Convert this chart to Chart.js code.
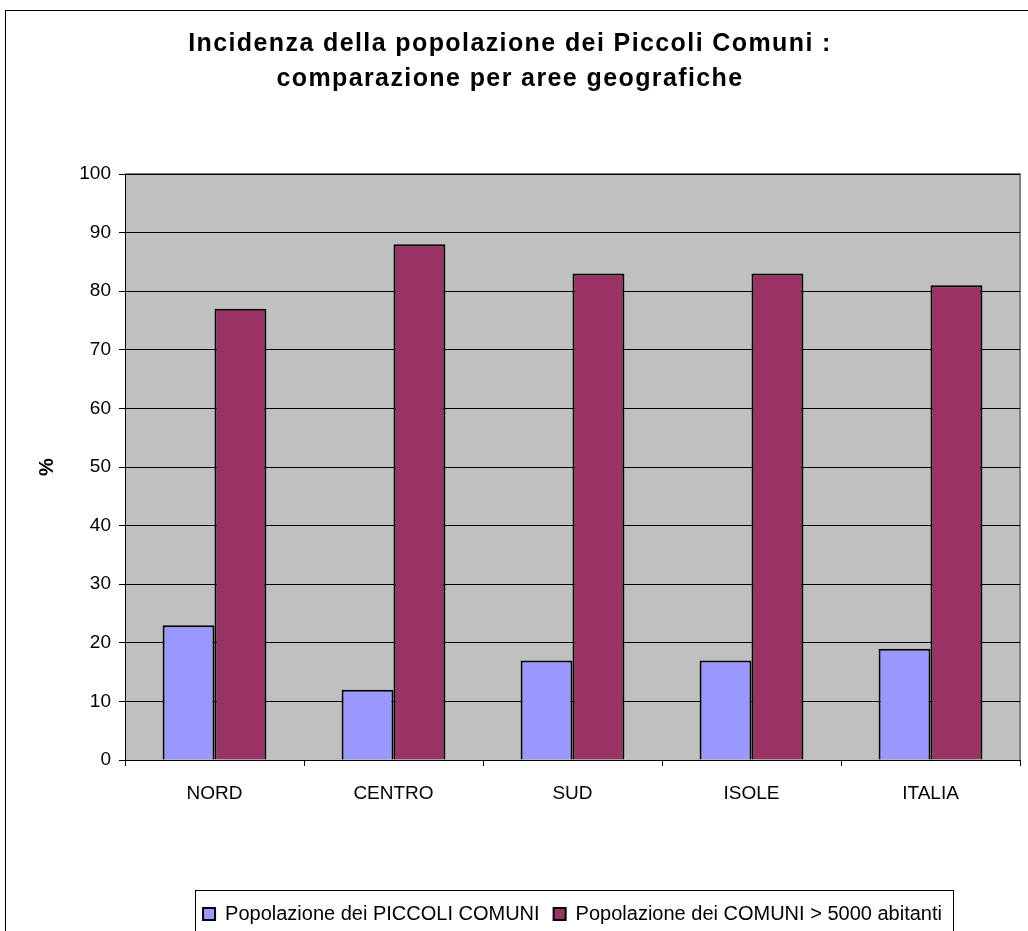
<!DOCTYPE html>
<html>
<head>
<meta charset="utf-8">
<script src="https://cdn.jsdelivr.net/npm/chart.js@4"></script>
<style>
html,body{margin:0;padding:0;background:#fff;}
#wrap{width:1028px;height:931px;position:relative;}
</style>
</head>
<body>
<div id="wrap"><canvas id="c" width="1028" height="931"></canvas></div>
<script>
const categories = ["NORD", "CENTRO", "SUD", "ISOLE", "ITALIA"];
const piccoliComuni = [23, 12, 17, 17, 19];
const comuniOltre5000 = [77, 88, 83, 83, 81];
const seriesNames = ["Popolazione dei PICCOLI COMUNI", "Popolazione dei COMUNI > 5000 abitanti"];
const titleLines = ["Incidenza della popolazione dei Piccoli Comuni :", "comparazione per aree geografiche"];
const yTitle = "%";

const FONT = "'Liberation Sans', Arial, sans-serif";

const decor = {
  id: 'decor',
  afterLayout(chart) {
    const lg = chart.legend, a = chart.chartArea;
    if (!lg) return;
    lg.left = a.left;
    lg.right = a.right;
    lg.width = a.right - a.left;
    if (lg.adjustHitBoxes) lg.adjustHitBoxes();
  },
  beforeDraw(chart) {
    const ctx = chart.ctx, a = chart.chartArea;
    ctx.save();
    ctx.fillStyle = '#fff';
    ctx.fillRect(0, 0, chart.width, chart.height);
    ctx.strokeStyle = '#000';
    ctx.lineWidth = 1;
    ctx.strokeRect(5.5, 10.5, 1100, 1000);
    ctx.fillStyle = '#C0C0C0';
    ctx.fillRect(a.left, a.top, a.right - a.left, a.bottom - a.top);
    ctx.strokeStyle = '#808080';
    ctx.lineWidth = 2;
    ctx.beginPath();
    ctx.moveTo(a.left, a.top);
    ctx.lineTo(a.right, a.top);
    ctx.lineTo(a.right, a.bottom);
    ctx.stroke();
    ctx.restore();
  },
  afterDraw(chart) {
    const ctx = chart.ctx, lg = chart.legend;
    if (!lg || !lg.legendHitBoxes || !lg.legendHitBoxes.length) return;
    const hb = lg.legendHitBoxes;
    const last = hb[hb.length - 1];
    const l = hb[0].left - 8, r = last.left + last.width + 11;
    ctx.save();
    ctx.strokeStyle = '#000';
    ctx.lineWidth = 1;
    ctx.strokeRect(Math.round(l) + 0.5, 890.5, Math.round(r - l), 100);
    ctx.restore();
  }
};

const chart = new Chart(document.getElementById('c'), {
  type: 'bar',
  data: {
    labels: categories,
    datasets: [
      { label: seriesNames[0], data: piccoliComuni, backgroundColor: '#9999FF', borderColor: '#000', borderWidth: 2 },
      { label: seriesNames[1], data: comuniOltre5000, backgroundColor: '#993366', borderColor: '#000', borderWidth: 2 }
    ]
  },
  options: {
    responsive: false,
    animation: false,
    devicePixelRatio: 1,
    layout: { padding: { left: 0, right: 8, top: 0, bottom: -3 } },
    datasets: { bar: { barPercentage: 1.0, categoryPercentage: 0.58 } },
    plugins: {
      title: {
        display: true,
        text: titleLines,
        color: '#000',
        font: { family: FONT, size: 25, weight: 'bold', lineHeight: '35px' },
        padding: { top: 27, bottom: 77 }
      },
      legend: {
        position: 'bottom',
        labels: {
          color: '#000',
          font: { family: FONT, size: 20 },
          boxWidth: 12,
          boxHeight: 12,
          padding: 14
        }
      },
      tooltip: { enabled: false }
    },
    scales: {
      x: {
        grid: { display: true, drawOnChartArea: false, color: '#000', tickLength: 6, offset: true },
        border: { display: true, color: '#000', width: 1 },
        ticks: { color: '#000', font: { family: FONT, size: 19 }, padding: 16, maxRotation: 0 },
        afterFit(s) { s.height = 130; }
      },
      y: {
        min: 0, max: 100,
        ticks: { stepSize: 10, color: '#000', font: { family: FONT, size: 19 }, padding: 8 },
        grid: { color: '#000', lineWidth: 1, tickLength: 6 },
        border: { display: true, color: '#000', width: 1 },
        title: { display: true, text: yTitle, color: '#000', font: { family: FONT, size: 20, weight: 'bold' }, padding: { top: 35, bottom: 0 } },
        afterFit(s) { s.width = 125; }
      }
    }
  },
  plugins: [decor]
});

// Title drawn with a little letter spacing like the original rendering
const tb = chart.titleBlock;
const origDraw = tb.draw.bind(tb);
tb.draw = function (area) {
  const ctx = chart.ctx;
  ctx.save();
  ctx.letterSpacing = '1.4px';
  origDraw(area);
  ctx.restore();
};
chart.draw();
</script>
</body>
</html>
